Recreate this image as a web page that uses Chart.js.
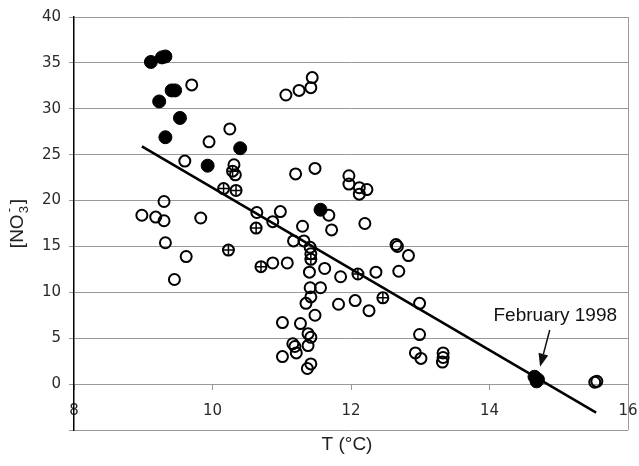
<!DOCTYPE html>
<html>
<head>
<meta charset="utf-8">
<script src="https://cdn.jsdelivr.net/npm/chart.js@4.4.1/dist/chart.umd.min.js"></script>
<style>
  html, body { margin: 0; padding: 0; background: #fff; }
</style>
</head>
<body>
<canvas id="myChart" width="639" height="466"></canvas>
<script>
// open circles
const openT = [8.98, 9.18, 9.30, 9.30, 9.83, 9.60, 9.70, 9.95, 10.25, 9.32, 9.62, 9.45, 10.31, 10.33,
    10.64, 10.87, 10.98, 11.30, 11.20, 11.48, 11.06, 11.25, 11.42, 11.44,
    10.87, 11.08, 11.17, 11.32, 11.41, 11.42, 11.40, 11.41, 11.56, 11.35, 11.42, 11.48,
    11.01, 11.27, 11.38, 11.42, 11.16, 11.19, 11.21, 11.38, 11.01, 11.42, 11.37,
    11.68, 11.72, 12.20, 11.62, 11.85, 12.36, 11.82, 12.06, 12.26,
    11.97, 11.97, 12.12, 12.23, 12.12, 12.65, 12.67, 12.83, 12.69,
    12.99, 12.99, 12.93, 13.01, 13.33, 13.33, 13.32, 15.52, 15.55]
const openNO3 = [18.4, 18.2, 17.8, 19.9, 18.1, 24.3, 32.6, 26.4, 27.8, 15.4, 13.9, 11.4, 23.9, 22.8,
    18.7, 17.7, 18.8, 17.2, 22.9, 23.5, 31.5, 32.0, 32.3, 33.4,
    13.2, 13.2, 15.6, 15.6, 14.9, 14.2, 12.2, 10.5, 10.5, 8.8, 9.5, 7.5,
    6.7, 6.6, 5.5, 5.1, 4.4, 4.1, 3.4, 4.2, 3.0, 2.2, 1.7,
    18.4, 16.8, 17.5, 12.6, 11.7, 12.2, 8.7, 9.1, 8.0,
    22.7, 21.8, 21.4, 21.2, 20.7, 15.2, 15.0, 14.0, 12.3,
    8.8, 5.4, 3.4, 2.8, 3.4, 2.9, 2.4, 0.2, 0.3]

// filled circles
const filledT = [9.11, 9.27, 9.32, 9.41, 9.46, 9.23, 9.53, 9.32, 9.93, 10.40, 11.56, 14.65, 14.68, 14.70]
const filledNO3 = [35.1, 35.6, 35.7, 32.0, 32.0, 30.8, 29.0, 26.9, 23.8, 25.7, 19.0, 0.8, 0.3, 0.5]

// crossed circles
const crossT = [10.16, 10.34, 10.29, 10.63, 10.23, 10.70, 11.42, 12.10, 12.46]
const crossNO3 = [21.3, 21.1, 23.2, 17.0, 14.6, 12.8, 13.6, 12.0, 9.4]

// regression line
const fitT = [8.98, 15.54]
const fitNO3 = [25.9, -3.1]

const xTicks = [8, 10, 12, 14, 16]
const yTicks = [-5, 0, 5, 10, 15, 20, 25, 30, 35, 40]

const noteText = "February 1998"
const notePos = [14.95, 7.5]
const arrowFrom = [14.87, 5.9]
const arrowTo = [14.73, 1.9]

function toPoints(xs, ys) {
    return xs.map((x, i) => ({ x: x, y: ys[i] }))
}

const labelFont = '"Liberation Sans", Arial, sans-serif'

const extras = {
    id: 'extras',
    afterDatasetsDraw(chart) {
        const ctx = chart.ctx
        const xs = chart.scales.x
        const ys = chart.scales.y
        ctx.save()
        ctx.fillStyle = '#111'
        ctx.font = '19px ' + labelFont
        ctx.textAlign = 'center'
        ctx.textBaseline = 'middle'
        ctx.fillText(noteText, xs.getPixelForValue(notePos[0]), ys.getPixelForValue(notePos[1]))

        let x1 = xs.getPixelForValue(arrowFrom[0]), y1 = ys.getPixelForValue(arrowFrom[1])
        let x2 = xs.getPixelForValue(arrowTo[0]), y2 = ys.getPixelForValue(arrowTo[1])
        let ang = Math.atan2(y2 - y1, x2 - x1)
        let hl = 13, hw = 5
        ctx.strokeStyle = '#111'
        ctx.lineWidth = 1.5
        ctx.beginPath()
        ctx.moveTo(x1, y1)
        ctx.lineTo(x2 - Math.cos(ang) * hl, y2 - Math.sin(ang) * hl)
        ctx.stroke()
        ctx.beginPath()
        ctx.moveTo(x2, y2)
        ctx.lineTo(x2 - Math.cos(ang) * hl - Math.sin(ang) * hw, y2 - Math.sin(ang) * hl + Math.cos(ang) * hw)
        ctx.lineTo(x2 - Math.cos(ang) * hl + Math.sin(ang) * hw, y2 - Math.sin(ang) * hl - Math.cos(ang) * hw)
        ctx.closePath()
        ctx.fill()
        ctx.restore()
    },
    afterDraw(chart) {
        const ctx = chart.ctx
        const area = chart.chartArea
        ctx.save()
        ctx.fillStyle = '#222'
        ctx.font = '19px ' + labelFont
        ctx.textAlign = 'center'
        ctx.textBaseline = 'alphabetic'
        ctx.fillText('T (°C)', (area.left + area.right) / 2 - 4, 450)

        // y title with sub/superscript
        ctx.translate(23, (area.top + area.bottom) / 2)
        ctx.rotate(-Math.PI / 2)
        ctx.textAlign = 'left'
        ctx.font = '19px ' + labelFont
        let w1 = ctx.measureText('[NO').width
        let w2 = ctx.measureText(']').width
        ctx.font = '13px ' + labelFont
        let ws = ctx.measureText('3').width
        let total = w1 + ws + 3 + w2
        let sx = -total / 2
        ctx.font = '19px ' + labelFont
        ctx.fillText('[NO', sx, 0)
        ctx.font = '13px ' + labelFont
        ctx.fillText('3', sx + w1 + 1, 5)
        ctx.fillText('-', sx + w1 + 2, -10)
        ctx.font = '19px ' + labelFont
        ctx.fillText(']', sx + w1 + ws + 3, 0)
        ctx.restore()
    }
}

new Chart("myChart", {
    type: "scatter",
    data: {
        datasets: [{
            type: 'line',
            data: toPoints(fitT, fitNO3),
            borderColor: '#000',
            borderWidth: 2.5,
            pointRadius: 0,
            fill: false
        }, {
            data: toPoints(filledT, filledNO3),
            pointStyle: 'circle',
            pointRadius: 6.5,
            backgroundColor: '#000',
            borderColor: '#000',
            borderWidth: 1
        }, {
            data: toPoints(crossT, crossNO3),
            pointStyle: 'cross',
            pointRadius: 5.5,
            borderColor: '#000',
            borderWidth: 1.5
        }, {
            data: toPoints(crossT, crossNO3),
            pointStyle: 'circle',
            pointRadius: 5.5,
            backgroundColor: 'rgba(0,0,0,0)',
            borderColor: '#000',
            borderWidth: 2
        }, {
            data: toPoints(openT, openNO3),
            pointStyle: 'circle',
            pointRadius: 5.5,
            backgroundColor: 'rgba(0,0,0,0)',
            borderColor: '#000',
            borderWidth: 2
        }]
    },
    options: {
        responsive: false,
        animation: false,
        devicePixelRatio: 1,
        layout: { autoPadding: false, padding: { top: 17, right: 11, bottom: 36, left: 0 } },
        plugins: {
            legend: { display: false },
            tooltip: { enabled: false }
        },
        scales: {
            x: {
                type: 'linear',
                min: 8,
                max: 16,
                position: { y: 0 },
                afterBuildTicks: scale => { scale.ticks = xTicks.map(v => ({ value: v })) },
                afterFit: scale => { scale.paddingLeft = 0; scale.paddingRight = 0; scale.height = 0 },
                grid: {
                    drawOnChartArea: true,
                    color: c => (c.tick && c.tick.value === 16) ? '#999' : 'rgba(0,0,0,0)',
                    tickColor: '#999',
                    tickLength: 5
                },
                border: { display: true, color: '#999', width: 1 },
                ticks: {
                    padding: 13,
                    color: '#2a2a2a',
                    font: { family: '"DejaVu Sans"', size: 15 }
                }
            },
            y: {
                min: -5,
                max: 40,
                afterBuildTicks: scale => { scale.ticks = yTicks.map(v => ({ value: v })) },
                afterFit: scale => { scale.width = 74; scale.paddingTop = 0; scale.paddingBottom = 0 },
                grid: {
                    color: '#999',
                    tickLength: 5
                },
                border: { display: true, color: '#000', width: 1.5 },
                ticks: {
                    padding: 8,
                    color: '#2a2a2a',
                    font: { family: '"DejaVu Sans"', size: 15 },
                    callback: v => v < 0 ? '' : v
                }
            }
        }
    },
    plugins: [extras]
});
</script>
</body>
</html>
